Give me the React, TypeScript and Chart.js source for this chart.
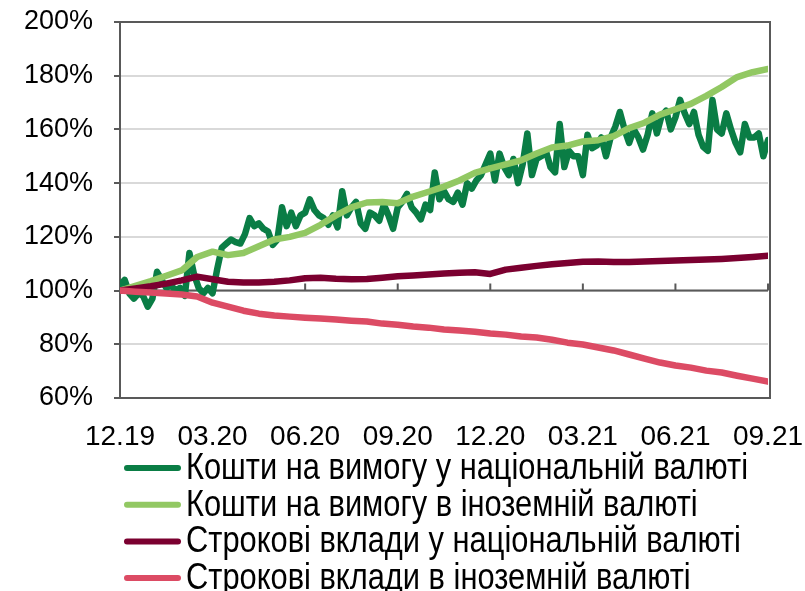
import React, { useEffect, useRef } from "react";
import { Chart, registerables } from "chart.js";

Chart.register(...registerables);

// ---- data ----
const tickLabels = ["12.19", "03.20", "06.20", "09.20", "12.20", "03.21", "06.21", "09.21"];
const SPAN_MONTHS = 21;

const seriesNames = [
  "Кошти на вимогу у національній валюті",
  "Кошти на вимогу в іноземній валюті",
  "Строкові вклади у національній валюті",
  "Строкові вклади в іноземній валюті",
];

const demandNational = [
  102, 104, 99, 97, 99, 98, 94, 97, 107, 104,
  101, 102, 100, 101, 98, 114, 106, 101, 99, 101,
  99, 108, 116, 117.5, 119, 118, 117.5, 121, 127, 124,
  125, 123, 122, 117, 119, 131, 124, 129, 124, 128,
  129, 134, 130, 128, 127, 124.5, 128, 123.5, 137, 128,
  131, 133, 125, 123, 129, 128, 126, 132, 128, 123,
  131, 133, 136, 131, 129, 126.5, 132, 130, 144, 134,
  137, 134, 133, 136.5, 132, 140, 138, 141, 143, 147,
  151, 141, 151, 146, 143, 149, 140, 147, 158.5, 143,
  149, 150, 152, 146, 144, 162, 146, 152, 150, 150,
  143, 158, 153, 154, 157, 150, 157, 161, 166.5, 160,
  155, 160, 157, 152.5, 158, 166, 158.5, 165, 167, 160,
  164.5, 171, 166, 162, 166.5, 158, 153.5, 152, 171, 160,
  158.5, 166, 160, 155, 151.5, 162, 157, 157, 158.5, 150,
  156,
];

const demandForeign = [
  100, 101.8, 103.5, 105.5, 107.5, 112.5, 114.5, 113.2, 114, 116.5,
  119, 120, 121.5, 124.5, 128, 131, 132.8, 133, 132.5, 135,
  136.8, 138.7, 141, 143.8, 145.5, 147, 148.5, 151, 153.3, 154,
  155.5, 156, 157.5, 160.5, 162.5, 165.5, 167.5, 169.5, 172.5, 175.8,
  179.5, 181.3, 182.5,
];

const termNational = [
  100, 100.8, 101.6, 102.6, 103.8, 105.2, 104.2, 103.3, 103, 103,
  103.3, 103.8, 104.6, 104.8, 104.4, 104.2, 104.3, 104.8, 105.3, 105.6,
  106, 106.4, 106.6, 106.8, 106.2, 107.8, 108.5, 109.2, 109.8, 110.3,
  110.7, 110.8, 110.6, 110.6, 110.8, 111, 111.2, 111.4, 111.6, 111.8,
  112.1, 112.5, 113,
];

const termForeign = [
  100, 99.6, 99.3, 98.9, 98.5, 97.8, 95.5, 94, 92.5, 91.4,
  90.7, 90.3, 89.9, 89.6, 89.2, 88.8, 88.5, 87.7, 87.3, 86.6,
  86.2, 85.5, 85.1, 84.7, 84, 83.6, 82.9, 82.5, 81.7, 80.6,
  79.9, 78.8, 77.7, 76.2, 74.7, 73.2, 72.1, 71.3, 70.2, 69.5,
  68.3, 67.2, 66.1,
];

// ---- styles ----
const COLORS = ["#0A7D45", "#92C863", "#7B0030", "#DC4B64"];
const AXIS = "#595959";
const GRID = "#D9D9D9";
const FONT_FAMILY = "'Liberation Sans', Arial, sans-serif";
const LEGEND_FONT = "36px 'Liberation Sans', Arial, sans-serif";
const LEGEND_TEXT_WIDTH = 562;

const toPoints = (vals: number[]) =>
  vals.map((v, i) => ({ x: (i * SPAN_MONTHS) / (vals.length - 1), y: v }));

const zeroPadding = (s: any) => {
  s.paddingTop = 0;
  s.paddingBottom = 0;
  s.paddingLeft = 0;
  s.paddingRight = 0;
};

const framePlugin = {
  id: "frame",
  beforeDatasetsDraw(chart: any) {
    const { ctx, chartArea: a, scales } = chart;
    const x = scales.x;
    const y = scales.y;
    ctx.save();
    ctx.strokeStyle = AXIS;
    ctx.lineWidth = 2;
    ctx.strokeRect(a.left, a.top, a.right + 2 - a.left, a.bottom - a.top);
    const y0 = y.getPixelForValue(100);
    ctx.beginPath();
    ctx.moveTo(a.left, y0);
    ctx.lineTo(a.right, y0);
    x.ticks.forEach((t: any) => {
      const px = x.getPixelForValue(t.value);
      ctx.moveTo(px, y0);
      ctx.lineTo(px, y0 - 7);
    });
    ctx.stroke();
    ctx.restore();
  },
};

const legendPlugin = {
  id: "bottomLegend",
  afterDraw(chart: any) {
    const { ctx } = chart;
    ctx.save();
    ctx.font = LEGEND_FONT;
    const sx = LEGEND_TEXT_WIDTH / ctx.measureText(chart.data.datasets[0].label).width;
    ctx.textBaseline = "middle";
    ctx.textAlign = "left";
    chart.data.datasets.forEach((ds: any, i: number) => {
      const cy = 468 + i * 36.7;
      ctx.strokeStyle = ds.borderColor;
      ctx.lineWidth = 6;
      ctx.lineCap = "round";
      ctx.beginPath();
      ctx.moveTo(127, cy);
      ctx.lineTo(178, cy);
      ctx.stroke();
      ctx.save();
      ctx.translate(186, cy + 1);
      ctx.scale(sx, 1);
      ctx.fillStyle = "#000";
      ctx.fillText(ds.label, 0, 0);
      ctx.restore();
    });
    ctx.restore();
  },
};

export default function App() {
  const canvasRef = useRef<HTMLCanvasElement | null>(null);

  useEffect(() => {
    if (!canvasRef.current) return;
    const series = [demandNational, demandForeign, termNational, termForeign];
    const chart = new Chart(canvasRef.current, {
      type: "line",
      data: {
        datasets: series.map((vals, i) => ({
          label: seriesNames[i],
          data: toPoints(vals),
          borderColor: COLORS[i],
          backgroundColor: COLORS[i],
          borderWidth: 6.5,
          pointRadius: 0,
          tension: 0,
          fill: false,
          borderCapStyle: "round",
          borderJoinStyle: "round",
          order: 4 - i,
        })),
      },
      options: {
        responsive: false,
        animation: false,
        events: [],
        layout: { padding: { left: 0, top: 22, right: 37, bottom: 143 } },
        plugins: { legend: { display: false }, tooltip: { enabled: false } },
        scales: {
          x: {
            type: "linear",
            min: 0,
            max: SPAN_MONTHS,
            afterBuildTicks: (s: any) => {
              const step = SPAN_MONTHS / (tickLabels.length - 1);
              s.ticks = tickLabels.map((_, i) => ({ value: i * step }));
            },
            afterFit: (s: any) => {
              s.height = 50;
              zeroPadding(s);
            },
            grid: { display: false, drawTicks: false },
            border: { display: false },
            ticks: {
              autoSkip: false,
              maxRotation: 0,
              padding: 22,
              color: "#000",
              font: { family: FONT_FAMILY, size: 28 },
              callback: (_v: any, i: number) => tickLabels[i],
            },
          },
          y: {
            min: 60,
            max: 200,
            afterFit: (s: any) => {
              s.width = 120;
              zeroPadding(s);
            },
            grid: { color: GRID, lineWidth: 2, tickColor: AXIS, tickLength: 6, drawTicks: true },
            border: { display: true, color: AXIS, width: 2 },
            ticks: {
              stepSize: 20,
              padding: 21,
              color: "#000",
              font: { family: FONT_FAMILY, size: 27 },
              callback: (v: any) => v + "%",
            },
          },
        },
      },
      plugins: [framePlugin, legendPlugin],
    });
    return () => chart.destroy();
  }, []);

  return (
    <div style={{ position: "absolute", left: 0, top: 0, width: 805, height: 591, background: "#fff" }}>
      <canvas ref={canvasRef} width={805} height={591} style={{ display: "block" }} />
    </div>
  );
}
